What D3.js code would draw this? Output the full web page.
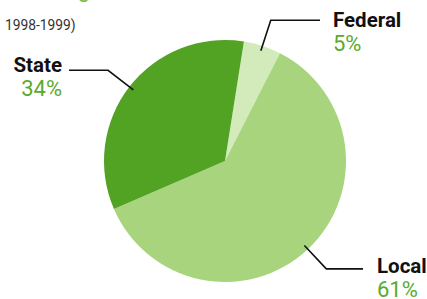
<!DOCTYPE html>
<html>
<head>
<meta charset="utf-8">
<script src="https://cdn.jsdelivr.net/npm/d3@7"></script>
<style>
  html, body { margin: 0; padding: 0; background: #fff; }
  svg { display: block; font-family: Roboto, "Open Sans", sans-serif; }
</style>
</head>
<body>
<div id="chart"></div>
<script>
// Funding sources pie (1998-1999)
const categories = ["Federal", "Local", "State"];
const shares = [5, 61, 34];
const percentLabels = ["5%", "61%", "34%"];
const subtitle = "1998-1999)";
const title = "Sources of Funding";

const W = 427, H = 299;
const cx = 225, cy = 161, R = 121;
const fills = { Federal: "#d3eabb", Local: "#a7d47c", State: "#52a224" };
const green = "#5aab2c";

// where each label block sits and where its leader line turns horizontal
const layout = {
  Federal: { x: 333, y: 26.5, anchor: "start", lineTo: 320 },
  Local:   { x: 377, y: 273,  anchor: "start", lineTo: 363 },
  State:   { x: 62,  y: 71.5, anchor: "end",   lineTo: 69 },
};

const data = categories.map((c, i) => ({ name: c, value: shares[i], pct: percentLabels[i] }));

const svg = d3.select("#chart").append("svg")
  .attr("width", W).attr("height", H).attr("viewBox", `0 0 ${W} ${H}`);

// title mostly cropped off above the frame
svg.append("text").attr("x", 90).attr("y", -3.5).attr("text-anchor", "end")
  .attr("fill", "#7cc04a").style("font-size", "22px").text(title);
svg.append("text").attr("x", 5).attr("y", 30)
  .attr("fill", "#333").style("font-size", "13.8px").text(subtitle);

const start = 9 * Math.PI / 180;
const pie = d3.pie().value((d) => d.value).sort(null)
  .startAngle(start).endAngle(start + 2 * Math.PI);
const arcs = pie(data);

const arc = d3.arc().innerRadius(0).outerRadius(R);
const g = svg.append("g").attr("transform", `translate(${cx},${cy})`);
g.selectAll("path.slice").data(arcs).enter().append("path")
  .attr("class", "slice")
  .attr("d", arc)
  .attr("fill", (d) => fills[d.data.name]);

// leader lines: start just inside the rim at the slice's mid angle
const inner = d3.arc().innerRadius(116).outerRadius(116);
const elbow = d3.arc().innerRadius(148).outerRadius(148);
arcs.forEach((a) => {
  const L = layout[a.data.name];
  const p0 = inner.centroid(a), p1 = elbow.centroid(a);
  const pts = [[cx + p0[0], cy + p0[1]], [cx + p1[0], cy + p1[1]], [L.lineTo, cy + p1[1]]];
  svg.append("path").attr("d", d3.line()(pts))
    .attr("fill", "none").attr("stroke", "#111").attr("stroke-width", 1.6);

  svg.append("text").attr("x", L.x).attr("y", L.y).attr("text-anchor", L.anchor)
    .attr("fill", "#111").style("font-size", "20.5px").style("font-weight", 700)
    .text(a.data.name);
  svg.append("text").attr("x", L.x).attr("y", L.y + 24).attr("text-anchor", L.anchor)
    .attr("fill", green).style("font-size", "22px")
    .text(a.data.pct);
});
</script>
</body>
</html>
